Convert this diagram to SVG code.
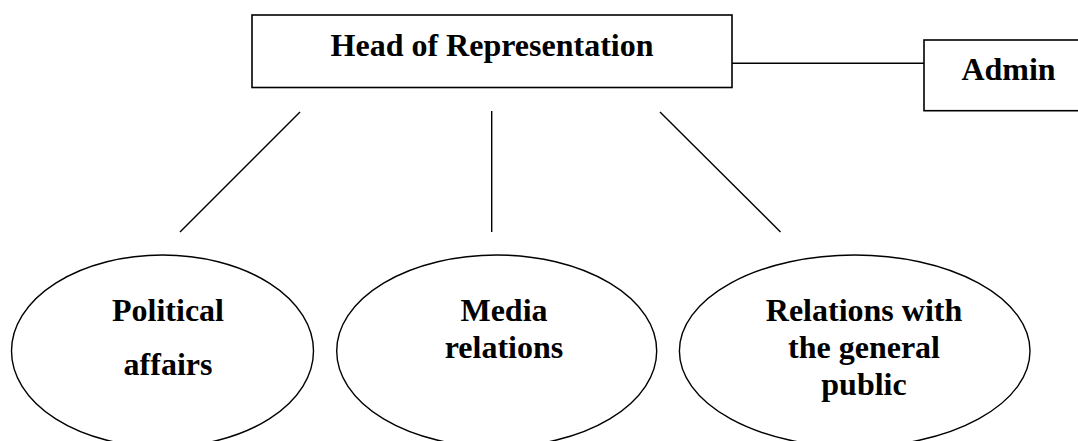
<svg xmlns="http://www.w3.org/2000/svg" width="1078" height="441" viewBox="0 0 1078 441">
<style>
.box{fill:#fff;stroke:#000;stroke-width:1.6}
.ell{fill:#fff;stroke:#000;stroke-width:1.4}
.ln{stroke:#000;stroke-width:1.4;fill:none}
text{font-family:"Liberation Serif","Times New Roman",serif;font-weight:bold;font-size:32px;fill:#000;text-anchor:middle}
</style>
<rect width="1078" height="441" fill="#fff"/>
<g id="connectors">
<line class="ln" x1="732" y1="63.3" x2="924" y2="63.3"/>
<line class="ln" x1="300" y1="112" x2="180" y2="232"/>
<line class="ln" x1="491.7" y1="111" x2="491.7" y2="232"/>
<line class="ln" x1="660" y1="112" x2="780.5" y2="232"/>
</g>
<g id="head">
<rect class="box" x="252" y="15" width="480" height="72.5"/>
<text x="492" y="56">Head of Representation</text>
</g>
<g id="admin">
<rect class="box" x="924" y="40" width="170" height="70.7"/>
<text x="1008.5" y="80">Admin</text>
</g>
<g id="political">
<ellipse class="ell" cx="162.5" cy="351" rx="151" ry="96"/>
<text x="168" y="321">Political</text>
<text x="168" y="375">affairs</text>
</g>
<g id="media">
<ellipse class="ell" cx="496.7" cy="351" rx="160" ry="96"/>
<text x="504" y="321">Media</text>
<text x="504" y="358">relations</text>
</g>
<g id="public">
<ellipse class="ell" cx="854.7" cy="351" rx="175.3" ry="96"/>
<text x="864" y="321">Relations with</text>
<text x="864" y="358">the general</text>
<text x="864" y="395">public</text>
</g>
</svg>
